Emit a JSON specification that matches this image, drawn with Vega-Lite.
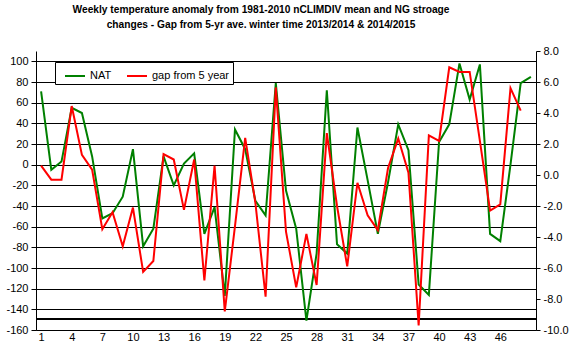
{
  "$schema": "https://vega.github.io/schema/vega-lite/v6.json",
  "width": 500,
  "height": 279,
  "autosize": {"type": "none"},
  "padding": {"left": 36, "top": 51, "right": 39, "bottom": 22},
  "background": "white",
  "title": {
    "text": ["Weekly temperature anomaly from 1981-2010 nCLIMDIV mean and NG stroage ", "changes - Gap from 5-yr ave. winter time 2013/2014 & 2014/2015"],
    "font": "Liberation Sans", "fontSize": 10.2, "fontWeight": "bold", "color": "black",
    "anchor": "middle", "dx": -25, "offset": 15, "lineHeight": 15
  },
  "config": {
    "view": {"stroke": null},
    "axis": {
      "labelFont": "Liberation Sans", "labelFontSize": 11, "labelColor": "black", "labelOverlap": false,
      "domainColor": "black", "domainWidth": 1, "tickColor": "black", "tickWidth": 1,
      "gridColor": "black", "gridOpacity": 1, "gridWidth": 1, "title": null
    }
  },
  "data": {"values": [
    {"week":1,"series":"NAT","value":71},{"week":2,"series":"NAT","value":-5},{"week":3,"series":"NAT","value":3},
    {"week":4,"series":"NAT","value":55},{"week":5,"series":"NAT","value":50},{"week":6,"series":"NAT","value":8},
    {"week":7,"series":"NAT","value":-52},{"week":8,"series":"NAT","value":-47},{"week":9,"series":"NAT","value":-31},
    {"week":10,"series":"NAT","value":15},{"week":11,"series":"NAT","value":-79},{"week":12,"series":"NAT","value":-62},
    {"week":13,"series":"NAT","value":8},{"week":14,"series":"NAT","value":-20},{"week":15,"series":"NAT","value":1},
    {"week":16,"series":"NAT","value":11},{"week":17,"series":"NAT","value":-67},{"week":18,"series":"NAT","value":-41},
    {"week":19,"series":"NAT","value":-127},{"week":20,"series":"NAT","value":34},{"week":21,"series":"NAT","value":15},
    {"week":22,"series":"NAT","value":-35},{"week":23,"series":"NAT","value":-49},{"week":24,"series":"NAT","value":79},
    {"week":25,"series":"NAT","value":-25},{"week":26,"series":"NAT","value":-62},{"week":27,"series":"NAT","value":-151},
    {"week":28,"series":"NAT","value":-86},{"week":29,"series":"NAT","value":72},{"week":30,"series":"NAT","value":-77},
    {"week":31,"series":"NAT","value":-86},{"week":32,"series":"NAT","value":36},{"week":33,"series":"NAT","value":-15},
    {"week":34,"series":"NAT","value":-67},{"week":35,"series":"NAT","value":-17},{"week":36,"series":"NAT","value":39},
    {"week":37,"series":"NAT","value":14},{"week":38,"series":"NAT","value":-116},{"week":39,"series":"NAT","value":-126},
    {"week":40,"series":"NAT","value":22},{"week":41,"series":"NAT","value":39},{"week":42,"series":"NAT","value":98},
    {"week":43,"series":"NAT","value":63},{"week":44,"series":"NAT","value":97},{"week":45,"series":"NAT","value":-67},
    {"week":46,"series":"NAT","value":-74},{"week":47,"series":"NAT","value":0},{"week":48,"series":"NAT","value":79},
    {"week":49,"series":"NAT","value":85},
    {"week":1,"series":"gap from 5 year","value":0.6},{"week":2,"series":"gap from 5 year","value":-0.3},
    {"week":3,"series":"gap from 5 year","value":-0.3},{"week":4,"series":"gap from 5 year","value":4.45},
    {"week":5,"series":"gap from 5 year","value":1.3},{"week":6,"series":"gap from 5 year","value":0.35},
    {"week":7,"series":"gap from 5 year","value":-3.5},{"week":8,"series":"gap from 5 year","value":-2.4},
    {"week":9,"series":"gap from 5 year","value":-4.6},{"week":10,"series":"gap from 5 year","value":-2.1},
    {"week":11,"series":"gap from 5 year","value":-6.25},{"week":12,"series":"gap from 5 year","value":-5.55},
    {"week":13,"series":"gap from 5 year","value":1.35},{"week":14,"series":"gap from 5 year","value":1.0},
    {"week":15,"series":"gap from 5 year","value":-2.25},{"week":16,"series":"gap from 5 year","value":1.0},
    {"week":17,"series":"gap from 5 year","value":-6.8},{"week":18,"series":"gap from 5 year","value":0.6},
    {"week":19,"series":"gap from 5 year","value":-8.8},{"week":20,"series":"gap from 5 year","value":-3.3},
    {"week":21,"series":"gap from 5 year","value":2.4},{"week":22,"series":"gap from 5 year","value":-1.8},
    {"week":23,"series":"gap from 5 year","value":-7.85},{"week":24,"series":"gap from 5 year","value":5.65},
    {"week":25,"series":"gap from 5 year","value":-3.65},{"week":26,"series":"gap from 5 year","value":-7.25},
    {"week":27,"series":"gap from 5 year","value":-3.8},{"week":28,"series":"gap from 5 year","value":-7.1},
    {"week":29,"series":"gap from 5 year","value":2.7},{"week":30,"series":"gap from 5 year","value":-2.0},
    {"week":31,"series":"gap from 5 year","value":-5.9},{"week":32,"series":"gap from 5 year","value":-0.5},
    {"week":33,"series":"gap from 5 year","value":-2.6},{"week":34,"series":"gap from 5 year","value":-3.55},
    {"week":35,"series":"gap from 5 year","value":0.45},{"week":36,"series":"gap from 5 year","value":2.35},
    {"week":37,"series":"gap from 5 year","value":0.15},{"week":38,"series":"gap from 5 year","value":-9.7},
    {"week":39,"series":"gap from 5 year","value":2.55},{"week":40,"series":"gap from 5 year","value":2.2},
    {"week":41,"series":"gap from 5 year","value":6.95},{"week":42,"series":"gap from 5 year","value":6.65},
    {"week":43,"series":"gap from 5 year","value":6.65},{"week":44,"series":"gap from 5 year","value":2.2},
    {"week":45,"series":"gap from 5 year","value":-2.3},{"week":46,"series":"gap from 5 year","value":-1.9},
    {"week":47,"series":"gap from 5 year","value":5.6},{"week":48,"series":"gap from 5 year","value":4.15}
  ]},
  "layer": [
    {
      "layer": [
        {
          "mark": {"type": "rule", "color": "black", "strokeWidth": 1},
          "encoding": {
            "y": {"datum": -149, "type": "quantitative", "scale": {"domain": [-160, 110], "nice": false},
              "axis": {"orient": "left", "values": [-160,-140,-120,-100,-80,-60,-40,-20,0,20,40,60,80,100], "grid": true, "tickSize": 5, "labelPadding": 3, "labelOverlap": false, "labelExpr": "replace(datum.label, '\u2212', '-')"}}
          }
        },
        {
          "transform": [{"filter": "datum.series === 'NAT'"}],
          "mark": {"type": "line", "strokeWidth": 2},
          "encoding": {
            "x": {"field": "week", "type": "quantitative", "scale": {"domain": [0.5, 49.5], "nice": false},
              "axis": {"values": [1,4,7,10,13,16,19,22,25,28,31,34,37,40,43,46], "ticks": false, "grid": false, "labelPadding": 1, "labelFlush": false, "labelOverlap": false}},
            "y": {"field": "value", "type": "quantitative", "scale": {"domain": [-160, 110], "nice": false},
              "axis": {"orient": "left", "values": [-160,-140,-120,-100,-80,-60,-40,-20,0,20,40,60,80,100], "grid": true, "tickSize": 5, "labelPadding": 3, "labelOverlap": false, "labelExpr": "replace(datum.label, '\u2212', '-')"}},
            "color": {"field": "series", "type": "nominal",
              "scale": {"domain": ["NAT", "gap from 5 year"], "range": ["#008000", "#ff0000"]},
              "legend": {"orient": "none", "legendX": 19, "legendY": 11, "direction": "horizontal", "title": null,
                "strokeColor": "black", "fillColor": "white", "padding": 3, "symbolType": "stroke",
                "symbolStrokeWidth": 2, "symbolSize": 400, "labelFont": "Liberation Sans", "labelFontSize": 11,
                "labelColor": "black", "columnPadding": 8, "labelOffset": 4, "symbolOffset": 6}}
          }
        }
      ]
    },
    {
      "transform": [{"filter": "datum.series === 'gap from 5 year'"}],
      "mark": {"type": "line", "strokeWidth": 2},
      "encoding": {
        "x": {"field": "week", "type": "quantitative", "scale": {"domain": [0.5, 49.5], "nice": false},
          "axis": {"values": [1,4,7,10,13,16,19,22,25,28,31,34,37,40,43,46], "ticks": false, "grid": false, "labelPadding": 1, "labelFlush": false, "labelOverlap": false}},
        "y": {"field": "value", "type": "quantitative", "scale": {"domain": [-10, 8], "nice": false},
          "axis": {"orient": "right", "values": [-10,-8,-6,-4,-2,0,2,4,6,8], "format": ".1f", "grid": false, "tickSize": 4, "labelPadding": 3, "labelOverlap": false, "labelExpr": "replace(datum.label, '\u2212', '-')"}},
        "color": {"field": "series", "type": "nominal"}
      }
    }
  ],
  "resolve": {"scale": {"y": "independent"}}
}
